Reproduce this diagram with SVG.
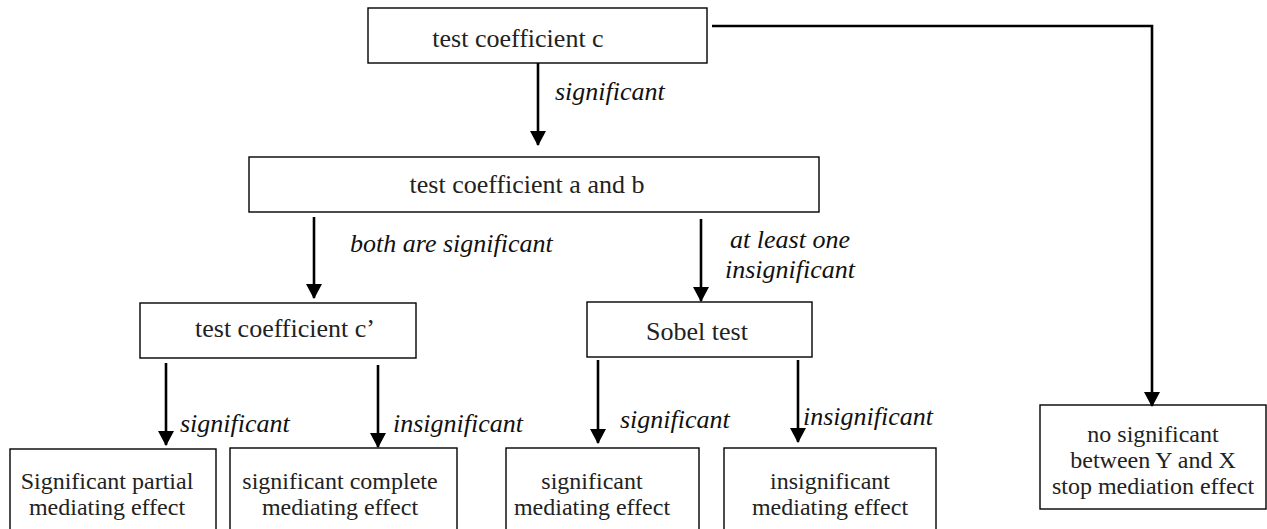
<svg xmlns="http://www.w3.org/2000/svg" width="1267" height="529" viewBox="0 0 1267 529" font-family="'Liberation Serif', 'Times New Roman', 'DejaVu Serif', serif">
<style>
.box{fill:#fff;stroke:#000;stroke-width:1.4}
text{font-family:'Liberation Serif','Times New Roman','DejaVu Serif',serif}
.t{font-size:26px;fill:#222}
.s{font-size:24px;fill:#222;text-anchor:middle}
.m{text-anchor:middle}
.lbl{font-size:26px;font-style:italic;fill:#111}
.arr{stroke:#000;stroke-width:2.6;fill:none;marker-end:url(#ah)}
</style>
<defs>
<marker id="ah" markerUnits="userSpaceOnUse" markerWidth="17" markerHeight="16" viewBox="0 0 16 17" refX="15" refY="8.5" orient="auto">
<path d="M0,0 L16,8.5 L0,17 z" fill="#000"/>
</marker>
</defs>
<g id="n-c"><rect class="box" x="368" y="8" width="339" height="55"/><text class="t m" x="518" y="47">test coefficient c</text></g>
<g id="n-ab"><rect class="box" x="249" y="157" width="570" height="55"/><text class="t m" x="527" y="193">test coefficient a and b</text></g>
<g id="n-cp"><rect class="box" x="140" y="303" width="276" height="55"/><text class="t m" x="285" y="337">test coefficient c’</text></g>
<g id="n-sobel"><rect class="box" x="587" y="302" width="225" height="55"/><text class="t m" x="697" y="340">Sobel test</text></g>
<g id="n-partial"><rect class="box" x="10" y="449" width="206" height="90"/><text class="s" x="107" y="489">Significant partial</text><text class="s" x="107" y="515">mediating effect</text></g>
<g id="n-complete"><rect class="box" x="230" y="448" width="227" height="90"/><text class="s" x="340" y="489">significant complete</text><text class="s" x="340" y="515">mediating effect</text></g>
<g id="n-sigmed"><rect class="box" x="506" y="448" width="193" height="90"/><text class="s" x="592" y="489">significant</text><text class="s" x="592" y="515">mediating effect</text></g>
<g id="n-insigmed"><rect class="box" x="724" y="448" width="212" height="90"/><text class="s" x="830" y="489">insignificant</text><text class="s" x="830" y="515">mediating effect</text></g>
<g id="n-stop"><rect class="box" x="1040" y="405" width="226" height="104"/><text class="s" x="1153" y="442">no significant</text><text class="s" x="1153" y="468">between Y and X</text><text class="s" x="1153" y="494">stop mediation effect</text></g>
<g id="connectors">
<line class="arr" x1="538" y1="63" x2="538" y2="145"/>
<line class="arr" x1="314" y1="217" x2="314" y2="298"/>
<line class="arr" x1="701" y1="219" x2="701" y2="301"/>
<line class="arr" x1="166" y1="363" x2="166" y2="445"/>
<line class="arr" x1="378" y1="365" x2="378" y2="447"/>
<line class="arr" x1="598" y1="360" x2="598" y2="443"/>
<line class="arr" x1="798" y1="360" x2="798" y2="442"/>
<path class="arr" d="M712,26 L1152,26 L1152,406"/>
</g>
<g id="labels">
<text class="lbl" x="555" y="100">significant</text>
<text class="lbl" x="350" y="252">both are significant</text>
<text class="lbl m" x="790" y="248">at least one</text>
<text class="lbl m" x="790" y="278">insignificant</text>
<text class="lbl" x="180" y="432">significant</text>
<text class="lbl" x="393" y="432">insignificant</text>
<text class="lbl" x="620" y="428">significant</text>
<text class="lbl" x="803" y="425">insignificant</text>
</g>
</svg>
